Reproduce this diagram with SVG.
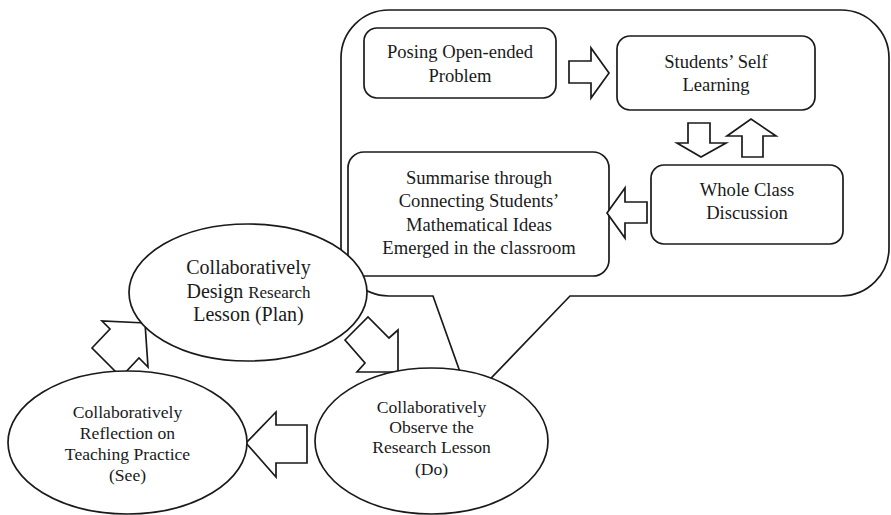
<svg xmlns="http://www.w3.org/2000/svg" width="891" height="515" viewBox="0 0 891 515">
<style>
.s{fill:#fff;stroke:#1a1a1a;stroke-width:1.7;stroke-linejoin:miter}
.t{font-family:"Liberation Serif","Times New Roman",serif;fill:#1a1a1a;text-anchor:middle}
.b{font-size:18.6px}
.e1{font-size:20px}
.e2{font-size:17.6px}
</style>
<rect width="891" height="515" fill="#fff"/>
<g id="callout">
<path class="s" d="M389,10 H841 A48,48 0 0 1 889,58 V248 A48,48 0 0 1 841,296 H570 L470,400 L433,296 H389 A48,48 0 0 1 341,248 V58 A48,48 0 0 1 389,10 Z"/>
</g>
<g id="posing">
<rect class="s" x="364" y="28" width="192" height="70" rx="13"/>
<text class="t b" x="460" y="58">Posing Open-ended</text>
<text class="t b" x="460" y="82">Problem</text>
</g>
<g id="self-learning">
<rect class="s" x="617" y="36" width="198" height="74" rx="13"/>
<text class="t b" x="716" y="68">Students’ Self</text>
<text class="t b" x="716" y="91">Learning</text>
</g>
<g id="whole-class">
<rect class="s" x="651" y="165" width="192" height="79" rx="13"/>
<text class="t b" x="747" y="196">Whole Class</text>
<text class="t b" x="747" y="219">Discussion</text>
</g>
<g id="summarise">
<rect class="s" x="348" y="152" width="261" height="124" rx="16"/>
<text class="t b" x="479" y="184">Summarise through</text>
<text class="t b" x="479" y="207">Connecting Students’</text>
<text class="t b" x="479" y="231">Mathematical Ideas</text>
<text class="t b" x="479" y="254">Emerged in the classroom</text>
</g>
<g id="connectors">
<polygon class="s" points="569,61 591,61 591,48 609,73 591,98 591,83 569,83"/>
<polygon class="s" points="688,123 710,123 710,143 726,143 701,157 677,143 688,143"/>
<polygon class="s" points="742,157 742,136 727,136 751,119 776,136 763,136 763,157"/>
<polygon class="s" points="647,202 625,202 625,188 607,213 625,238 625,223 647,223"/>
<polygon class="s" points="307,425 276,425 276,412 246,443 276,477 276,463 307,463"/>
<polygon class="s" points="345,340 368,317 389,338 398,330 398,372 357,372 365,363"/>
<polygon class="s" points="92,348 110,329 102,321 145,323 148,367 139,358 121,377"/>
</g>
<g id="plan">
<ellipse class="s" cx="248" cy="292.5" rx="119" ry="68.5"/>
<text class="t e1" x="248.5" y="274">Collaboratively</text>
<text class="t e1" x="248.5" y="298">Design <tspan style="font-size:17px">Research</tspan></text>
<text class="t e1" x="248.5" y="321">Lesson (Plan)</text>
</g>
<g id="see">
<ellipse class="s" cx="127.5" cy="442.5" rx="119.5" ry="71.5"/>
<text class="t e2" x="127.5" y="418">Collaboratively</text>
<text class="t e2" x="127.5" y="439">Reflection on</text>
<text class="t e2" x="127.5" y="460">Teaching Practice</text>
<text class="t e2" x="127.5" y="481">(See)</text>
</g>
<g id="do">
<ellipse class="s" cx="431.5" cy="441" rx="116.5" ry="73"/>
<text class="t e2" x="431.5" y="413">Collaboratively</text>
<text class="t e2" x="431.5" y="433">Observe the</text>
<text class="t e2" x="431.5" y="453">Research Lesson</text>
<text class="t e2" x="431.5" y="475">(Do)</text>
</g>
</svg>
